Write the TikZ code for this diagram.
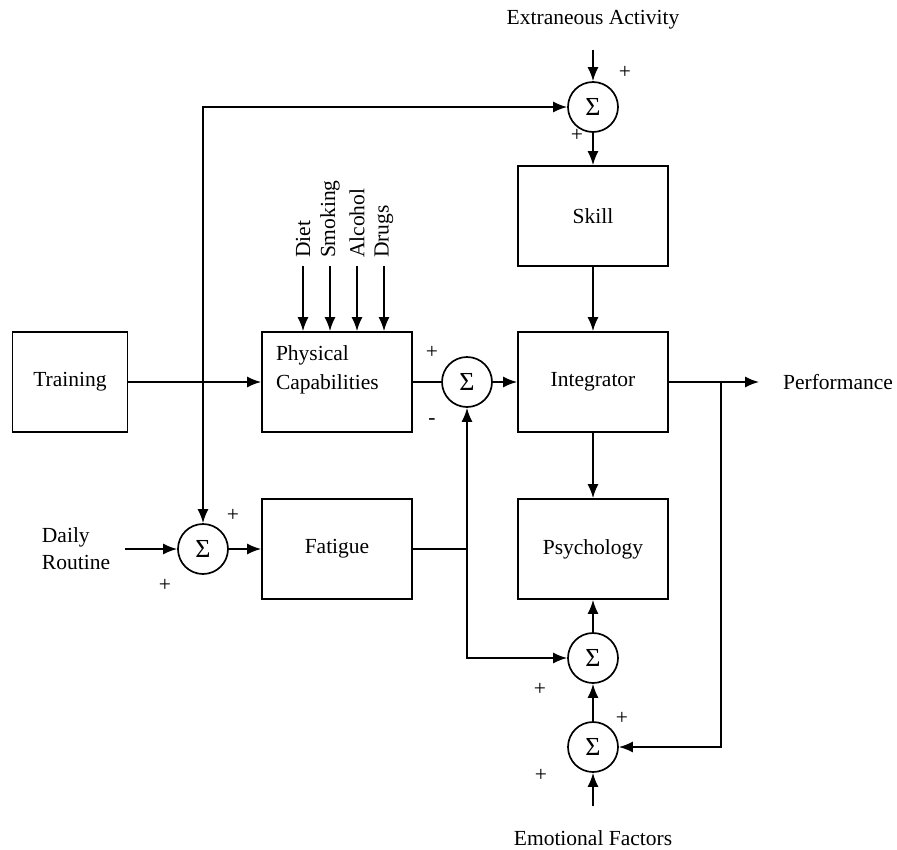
\documentclass[tikz,border=0pt]{standalone}
\usepackage{fontspec}
\setmainfont{Liberation Serif}
\usetikzlibrary{positioning,arrows.meta}
\tikzset{diagram/.style={x=1pt,y=1pt,node distance=100pt,on grid,line width=1.7pt}}
\tikzset{block/.style={draw,minimum width=150pt,minimum height=100pt,inner sep=0pt}}
\tikzset{sum/.style={draw,circle,minimum size=50pt,inner sep=0pt,font=\fontsize{26}{26}\selectfont}}
\tikzset{signal/.style={-{Latex[length=14pt,width=11pt]}}}
\tikzset{sign/.style={inner sep=0pt}}
\begin{document}
\begin{tikzpicture}[diagram]\fontsize{21.5}{27}\selectfont
  \useasboundingbox (0,0) rectangle (897,-849);
  \node[block] (integ) at (593,-382) {Integrator};
  \node[block] (skill) [above=166pt of integ] {Skill};
  \node[sum] (topS) [above=109pt of skill] {Σ};
  \node[block] (psych) [below=167pt of integ] {Psychology};
  \node[sum] (sumA) [below=109pt of psych] {Σ};
  \node[sum] (sumB) [below=89pt of sumA] {Σ};
  \node[sum] (midS) [left=126pt of integ] {Σ};
  \node[block] (phys) [left=130pt of midS,
    label={[anchor=north west,align=left,inner sep=0pt,xshift=14pt,yshift=-14pt]north west:Physical\\[2pt]Capabilities}] {};
  \node[block,minimum width=115pt] (training) [left=267pt of phys] {Training};
  \node[block] (fatigue) [below=167pt of phys] {Fatigue};
  \node[sum] (leftS) [left=134pt of fatigue] {Σ};
  \node[align=left] (daily) [left=127pt of leftS] {Daily\\Routine};
  \node (extr) [above=87pt of topS] {Extraneous Activity};
  \node (emo) [below=91pt of sumB] {Emotional Factors};
  \node (perf) [right=245pt of integ] {Performance};
  \node[rotate=90,anchor=west] (diet) at (303,-266) {Diet};
  \node[rotate=90,anchor=west] (smoking) at (330,-266) {Smoking};
  \node[rotate=90,anchor=west] (alcohol) at (357,-266) {Alcohol};
  \node[rotate=90,anchor=west] (drugs) at (384,-266) {Drugs};
  \coordinate (jn) at (leftS |- training);
  \coordinate (fj) at (midS |- fatigue);
  \coordinate (fb) at ([xshift=128pt]integ.center);
  % signs
  \node[sign] (p1) at (625,-72) {+};
  \node[sign] (p2) at (577,-135) {+};
  \node[sign] (p3) at (432,-352) {+};
  \node[sign] (p4) at (432,-422) {-};
  \node[sign] (p5) at (233,-515) {+};
  \node[sign] (p6) at (165,-585) {+};
  \node[sign] (p7) at (540,-689) {+};
  \node[sign] (p8) at (622,-718) {+};
  \node[sign] (p9) at (541,-775) {+};
  % connections
  \draw[signal] (training) -- (phys);
  \draw[signal] (jn) |- (topS);
  \draw[signal] (jn) -- (leftS);
  \draw[signal,shorten <=13pt] (extr) -- (topS);
  \draw[signal] (topS) -- (skill);
  \draw[signal] (skill) -- (integ);
  \draw[signal] (integ) -- (psych);
  \foreach \n in {diet,smoking,alcohol,drugs}
    \draw[signal] (\n.west) -- (\n.west |- phys.north);
  \draw (phys) -- (midS);
  \draw[signal] (midS) -- (integ);
  \draw[signal,shorten >=16pt] (integ) -- (perf);
  \draw[signal,shorten <=7pt] (daily) -- (leftS);
  \draw[signal] (leftS) -- (fatigue);
  \draw (fatigue) -- (fj);
  \draw[signal] (fj) -- (midS);
  \draw[signal] (fj) |- (sumA);
  \draw[signal] (sumA) -- (psych);
  \draw[signal] (sumB) -- (sumA);
  \draw[signal,shorten <=16pt] (emo) -- (sumB);
  \draw[signal] (fb) |- (sumB);
\end{tikzpicture}
\end{document}
